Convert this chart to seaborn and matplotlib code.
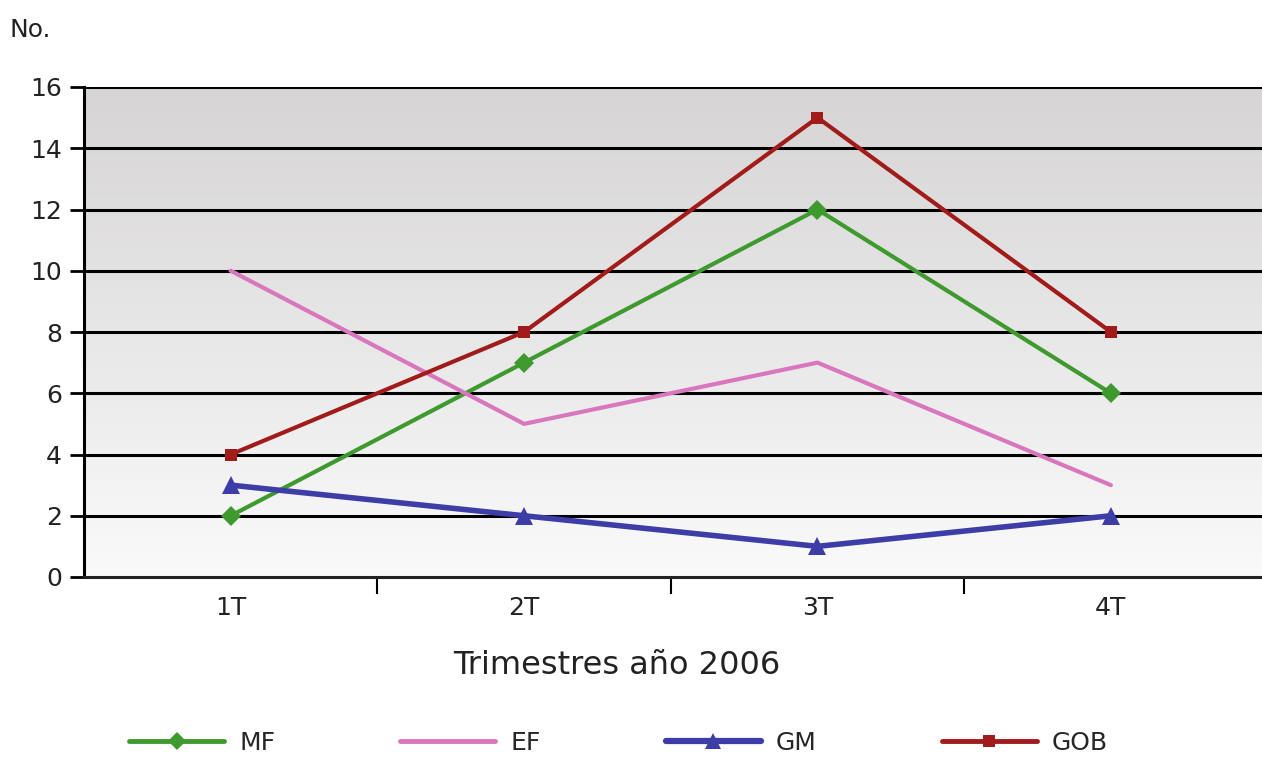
import numpy as np
import pandas as pd
import matplotlib
matplotlib.use("Agg")
import matplotlib.pyplot as plt
import seaborn as sns
from matplotlib.lines import Line2D

categories = ["1T", "2T", "3T", "4T"]
mf = [2, 7, 12, 6]
ef = [10, 5, 7, 3]
gm = [3, 2, 1, 2]
gob = [4, 8, 15, 8]
series_names = ["MF", "EF", "GM", "GOB"]
yticks = [0, 2, 4, 6, 8, 10, 12, 14, 16]

colors = {"MF": "#3e9a2e", "EF": "#d877bd", "GM": "#3d3da8", "GOB": "#a11b1b"}
markers = {"MF": "D", "EF": "", "GM": "^", "GOB": "s"}
msizes = {"MF": 10, "EF": 0, "GM": 13, "GOB": 9}
lwidths = {"MF": 3.0, "EF": 3.0, "GM": 4.0, "GOB": 3.0}

df = pd.DataFrame({
    "trim": categories * 4,
    "serie": sum([[s] * 4 for s in series_names], []),
    "valor": mf + ef + gm + gob,
})
df["pos"] = df["trim"].map({c: i for i, c in enumerate(categories)})

sns.set_style("white")
plt.rcParams["font.family"] = ["DejaVu Sans"]

fig = plt.figure(figsize=(12.62, 7.58), dpi=100)
ax = fig.add_axes([84 / 1262, 1 - 577 / 758, 1 - 84 / 1262, (577 - 87) / 758])

# gradient background
grad = np.linspace(0, 1, 256).reshape(-1, 1)
cmap = matplotlib.colors.LinearSegmentedColormap.from_list("bg", ["#d6d4d4", "#fafafa"])
ax.imshow(grad, aspect="auto", cmap=cmap, extent=[0, 1, 0, 1], transform=ax.transAxes, zorder=0)

for s in series_names:
    sub = df[df["serie"] == s]
    sns.lineplot(data=sub, x="pos", y="valor", ax=ax, color=colors[s],
                 marker=markers[s] if markers[s] else None,
                 markersize=msizes[s], linewidth=lwidths[s],
                 markeredgewidth=0, zorder=4, legend=False)

ax.set_xlim(-0.5, 3.515)
ax.set_ylim(0, 16)
for yv in yticks[1:]:
    ax.axhline(yv, color="black", linewidth=2.2, zorder=2)

ax.set_yticks(yticks)
ax.set_yticklabels([str(v) for v in yticks], fontsize=18, color="#222222")
ax.set_xticks(range(4))
ax.set_xticklabels(categories, fontsize=18, color="#222222")
ax.set_xticks([0.5, 1.5, 2.5], minor=True)
ax.tick_params(axis="x", which="major", length=0, pad=14, bottom=True)
ax.tick_params(axis="x", which="minor", length=12, width=1.5, color="black", direction="out", bottom=True)
ax.tick_params(axis="y", which="major", length=10, width=2, color="black", direction="out", pad=6, left=True)

for sp in ["top", "right"]:
    ax.spines[sp].set_visible(False)
ax.spines["left"].set_color("black")
ax.spines["left"].set_linewidth(2.2)
ax.spines["bottom"].set_color("#222222")
ax.spines["bottom"].set_linewidth(2.2)
ax.set_xlabel("")
ax.set_ylabel("")

fig.text(617 / 1262, 1 - 666 / 758, "Trimestres año 2006", fontsize=23, ha="center", va="center", color="#222222")
fig.text(10 / 1262, 1 - 30 / 758, "No.", fontsize=18, ha="left", va="center", color="#222222")

handles = [Line2D([], [], color=colors[s], marker=markers[s] if markers[s] else None,
                  markersize=msizes[s] * 0.9, linewidth=lwidths[s] + 0.5, markeredgewidth=0)
           for s in series_names]
fig.legend(handles, series_names, loc="center", bbox_to_anchor=(0.49, 1 - 743 / 758),
           ncol=4, frameon=False, fontsize=18, handlelength=3.8, columnspacing=5.0,
           handletextpad=0.6)

fig.savefig("out.png", dpi=100)
